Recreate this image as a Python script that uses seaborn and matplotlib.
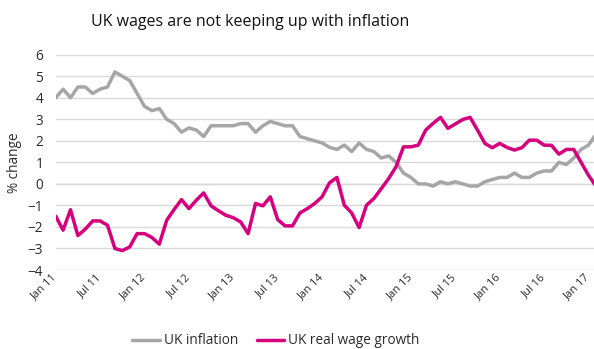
import numpy as np
import pandas as pd
import matplotlib
matplotlib.use("Agg")
import matplotlib.pyplot as plt
from matplotlib.ticker import MultipleLocator
import seaborn as sns

# ---- data (monthly, Jan 2011 - Feb 2017) ----
uk_inflation = [4.0, 4.4, 4.0, 4.5, 4.5, 4.2, 4.4, 4.5, 5.2, 5.0, 4.8, 4.2,
                3.6, 3.4, 3.5, 3.0, 2.8, 2.4, 2.6, 2.5, 2.2, 2.7, 2.7, 2.7,
                2.7, 2.8, 2.8, 2.4, 2.7, 2.9, 2.8, 2.7, 2.7, 2.2, 2.1, 2.0,
                1.9, 1.7, 1.6, 1.8, 1.5, 1.9, 1.6, 1.5, 1.2, 1.3, 1.0, 0.5,
                0.3, 0.0, 0.0, -0.1, 0.1, 0.0, 0.1, 0.0, -0.1, -0.1, 0.1, 0.2,
                0.3, 0.3, 0.5, 0.3, 0.3, 0.5, 0.6, 0.6, 1.0, 0.9, 1.2, 1.6,
                1.8, 2.3]
uk_real_wage_growth = [-1.5, -2.15, -1.2, -2.4, -2.1, -1.72, -1.72, -1.92, -3.0, -3.1, -2.93, -2.31,
                       -2.31, -2.49, -2.8, -1.69, -1.19, -0.73, -1.15, -0.76, -0.42, -1.02, -1.25, -1.46,
                       -1.57, -1.77, -2.31, -0.91, -1.02, -0.6, -1.66, -1.95, -1.95, -1.35, -1.15, -0.91,
                       -0.6, 0.05, 0.3, -0.99, -1.35, -2.03, -0.99, -0.68, -0.22, 0.25, 0.8, 1.72,
                       1.72, 1.8, 2.5, 2.81, 3.09, 2.58, 2.78, 2.99, 3.09, 2.5, 1.88, 1.68,
                       1.88, 1.69, 1.57, 1.68, 2.03, 2.03, 1.8, 1.79, 1.38, 1.6, 1.6, 1.0,
                       0.4, -0.1]
tick_labels = ["Jan 11", "Jul 11", "Jan 12", "Jul 12", "Jan 13", "Jul 13", "Jan 14",
               "Jul 14", "Jan 15", "Jul 15", "Jan 16", "Jul 16", "Jan 17"]
series_names = ["UK inflation", "UK real wage growth"]
colors = ["#a6a6a6", "#d6007e"]

months = np.arange(len(uk_inflation))
df = pd.DataFrame({
    "month": np.concatenate([months, months]),
    "value": uk_inflation + uk_real_wage_growth,
    "series": [series_names[0]] * len(months) + [series_names[1]] * len(months),
})

sns.set_style("white")
plt.rcParams["font.family"] = ["Open Sans", "DejaVu Sans"]

W, H = 594, 349
fig = plt.figure(figsize=(W / 100, H / 100), dpi=100)
left_px, right_px, top_px, bot_px = 55.7, 594, 54.7, 270
ax = fig.add_axes([left_px / W, 1 - bot_px / H, (right_px - left_px) / W, (bot_px - top_px) / H])

sns.lineplot(data=df, x="month", y="value", hue="series", palette=colors,
             linewidth=2.5, ax=ax, zorder=3)

month_px = 7.4
ax.set_xlim(0, (right_px - left_px) / month_px)
ax.set_ylim(-4, 6)
ax.set_yticks(range(-4, 7))
ax.yaxis.grid(True, color="#d9d9d9", linewidth=1.0)
ax.set_axisbelow(True)
for s in ["left", "right", "top"]:
    ax.spines[s].set_visible(False)
ax.spines["bottom"].set_position(("data", 0))
ax.spines["bottom"].set_color("#d9d9d9")
ax.spines["bottom"].set_linewidth(1.0)
ax.xaxis.set_major_locator(MultipleLocator(6))
ax.xaxis.set_minor_locator(MultipleLocator(1))
ax.tick_params(axis="x", which="major", direction="inout", length=5, width=1,
               color="#d9d9d9", labelbottom=False)
ax.tick_params(axis="x", which="minor", direction="inout", length=3, width=1,
               color="#d9d9d9")
ax.tick_params(axis="y", length=0, pad=9, labelsize=9.8, labelcolor="#2b2b2b")
ax.set_xlabel("")
ax.set_ylabel("% change", fontsize=9.8, color="#2b2b2b", labelpad=4)

sec = ax.secondary_xaxis("bottom")
sec.set_xticks(np.arange(len(tick_labels)) * 6, labels=tick_labels)
sec.tick_params(length=0, pad=4, labelsize=8, labelcolor="#2b2b2b")
sec.spines["bottom"].set_visible(False)
for lab in sec.get_xticklabels():
    lab.set_rotation(45)
    lab.set_ha("right")
    lab.set_va("center")
    lab.set_rotation_mode("anchor")

leg_x = (276 - left_px) / (right_px - left_px)
leg_y = ((H - 341) / H - (1 - bot_px / H)) / ((bot_px - top_px) / H)
sns.move_legend(ax, "center", bbox_to_anchor=(leg_x, leg_y), ncol=2, frameon=False,
                title=None, fontsize=9.8, handlelength=2.0, handletextpad=0.3,
                columnspacing=1.4)
for t in ax.get_legend().get_texts():
    t.set_color("#2b2b2b")

fig.text(250 / W, 1 - 22 / H, "UK wages are not keeping up with inflation",
         ha="center", va="center", fontsize=11.5, color="#111111", fontweight="medium")

fig.savefig("out.png", dpi=100)
